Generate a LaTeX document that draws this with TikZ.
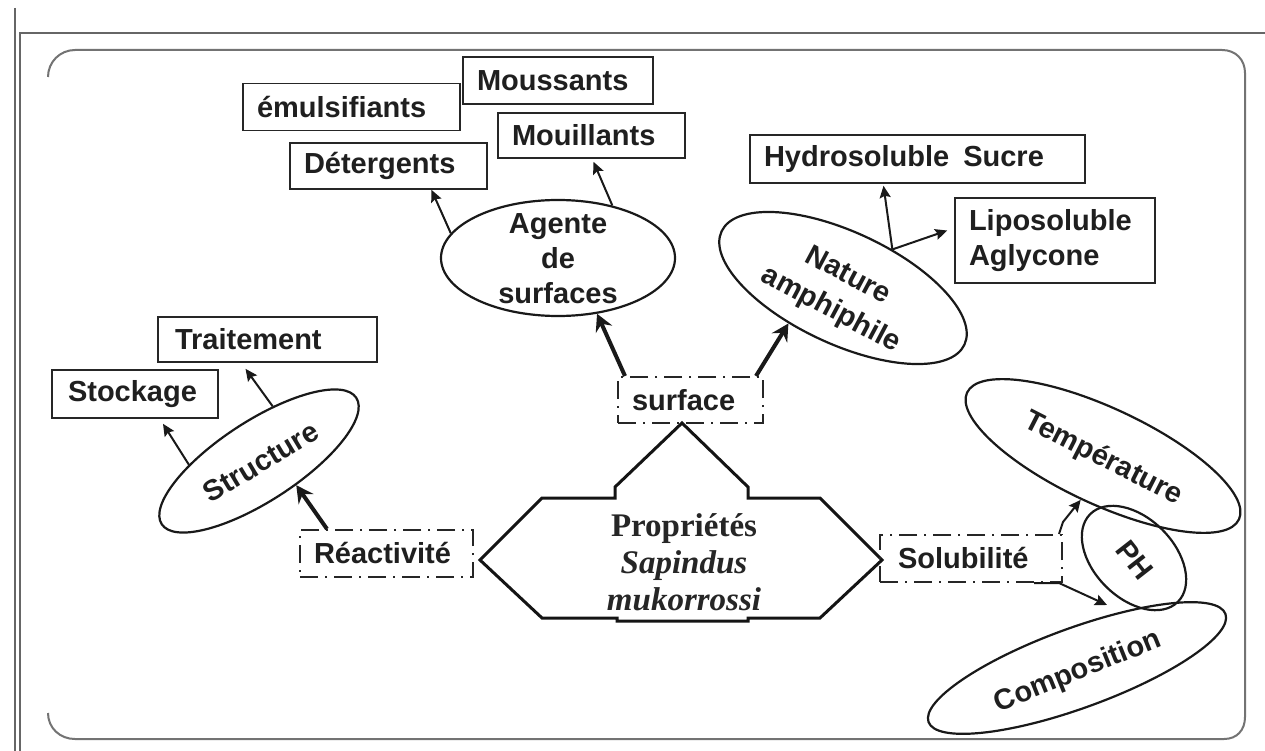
\documentclass[tikz,border=0pt]{standalone}
\usepackage{fontspec}
\setmainfont{Liberation Sans}
\newfontfamily\serifc{Liberation Serif}
\usetikzlibrary{shapes.geometric,arrows.meta,calc}
\tikzset{
  lab/.style={font=\fontsize{29}{35}\selectfont\bfseries, text=black!88},
  box/.style={draw=black!85, line width=1.6pt, lab, inner xsep=14pt, inner ysep=0pt, align=left, anchor=center},
  dbox/.style={box, dash pattern=on 18pt off 7pt on 2pt off 7pt, line width=2pt},
  ell/.style={draw=black!90, ellipse, line width=2.2pt, inner sep=0pt},
  thinarr/.style={line width=2pt, draw=black!90, -{Stealth[length=12pt,width=11pt,inset=2pt]}},
  thickarr/.style={line width=4pt, draw=black!90, -{Stealth[length=17pt,width=18pt,inset=6pt]}},
  frm/.style={draw=black!60, line width=2pt},
  ifrm/.style={draw=black!55, line width=2pt},
}
\begin{document}
\begin{tikzpicture}[x=1pt,y=-1pt]
\useasboundingbox[fill=white] (0,0) rectangle (1265,751);
% frames
\draw[frm] (15,8) -- (15,751);
\draw[frm] (1265,33) -- (20,33) -- (20,751);
\draw[ifrm] (48,77) .. controls (48,62) and (60,50) .. (75,50) -- (1222,50)
  .. controls (1236,50) and (1245,60) .. (1245,73) -- (1245,717)
  .. controls (1245,730) and (1237,739) .. (1224,739) -- (75,739)
  .. controls (60,739) and (48,728) .. (48,713);
% central shape
\draw[line width=3pt, line join=miter, draw=black!92] (480,560) -- (542,498) -- (615,498) -- (615,487) -- (682,423) -- (748,487) -- (748,498) -- (820,498) -- (882,560) -- (820,618) -- (748,618) -- (748,621) -- (617,621) -- (617,618) -- (542,618) -- cycle;
\node[align=center, text=black!85, font=\serifc\fontsize{33}{37}\selectfont\bfseries] (prop) at (684,562)
  {Propriétés\\\itshape Sapindus\\\itshape mukorrossi};
% boxes
\node[box, text width=189pt, minimum height=47pt] (emu) at (351.5,107) {émulsifiants};
\node[box, text width=162pt, minimum height=47pt] (mous) at (558,80.5) {Moussants};
\node[box, text width=159pt, minimum height=45pt] (moui) at (591.5,135.5) {Mouillants};
\node[box, text width=169pt, minimum height=46pt] (det) at (388.5,166) {Détergents};
\node[box, text width=307pt, minimum height=48pt] (hyd) at (917.5,159) {Hydrosoluble\hspace{14pt}Sucre};
\node[box, text width=172pt, minimum height=85pt] (lip) at (1055,240.5) {Liposoluble\\Aglycone};
\node[box, text width=185pt, minimum height=45pt, inner xsep=17pt] (tra) at (267.5,339.5) {Traitement};
\node[box, text width=134pt, minimum height=48pt, inner xsep=16pt] (sto) at (135,394) {Stockage};
% dashed boxes
\node[dbox, text width=117pt, minimum height=46pt] (sur) at (690.5,400) {surface};
\node[dbox, text width=145pt, minimum height=47pt] (rea) at (386.5,553.5) {Réactivité};
\node[dbox, text width=146pt, minimum height=47pt, inner xsep=18pt] (sol) at (971,558.5) {Solubilité};
% ellipses
\node[ell, minimum width=234pt, minimum height=116pt] (ag) at (558,258) {};
\node[lab, align=center] (agT) at (558,259) {Agente\\de\\surfaces};
\node[ell, minimum width=268pt, minimum height=112pt, rotate=-25] (nat) at (843,288) {};
\node[lab, rotate=-28] (natT1) at (849,274) {Nature};
\node[lab, rotate=-28] (natT2) at (831,310) {amphiphile};
\node[ell, minimum width=232pt, minimum height=80pt, rotate=33] (stc) at (259,461) {};
\node[lab, rotate=31] (stcT) at (261,462) {Structure};
\node[ell, minimum width=300pt, minimum height=96pt, rotate=-25] (temp) at (1103,456) {};
\node[lab, rotate=-27] (tempT) at (1103,459) {Température};
\node[ell, minimum width=124pt, minimum height=80pt, rotate=-45] (ph) at (1134,558) {};
\node[lab, rotate=-52] (phT) at (1135,560) {PH};
\node[ell, minimum width=316pt, minimum height=80pt, rotate=20] (comp) at (1077,668) {};
\node[lab, rotate=22] (compT) at (1078,672) {Composition};
\coordinate (solend) at (1107,605);
% arrows
\draw[thinarr] (ag.167) -- (det.-29);
\draw[thinarr] (ag.44) -- ($(moui.south)+(2,3)$);
\draw[thickarr] ($(sur.north west)+(8,0)$) -- (ag.-55);
\draw[thickarr] ($(sur.north east)+(-8,0)$) -- (nat.238);
\draw[thinarr] (nat.63) -- ($(hyd.south)+(-34,2)$);
\draw[thinarr] (nat.63) -- ($(lip.west)+(-7,-10)$);
\draw[thinarr] (stc.150) -- ($(sto.south)+(28,5)$);
\draw[thinarr] (stc.43) -- ($(tra.south)+(-22,6)$);
\draw[thickarr] ($(rea.north west)+(28,0)$) -- (stc.-66);
\draw[thinarr] ($(sol.north east)+(-4,0)$) -- ($(sol.north east)+(0,-12)$) -- (temp.-92);
\draw[thinarr] ($(sol.south east)+(-29,0)$) -- ($(sol.south east)+(-4,0)$) -- (solend);
\end{tikzpicture}
\end{document}
